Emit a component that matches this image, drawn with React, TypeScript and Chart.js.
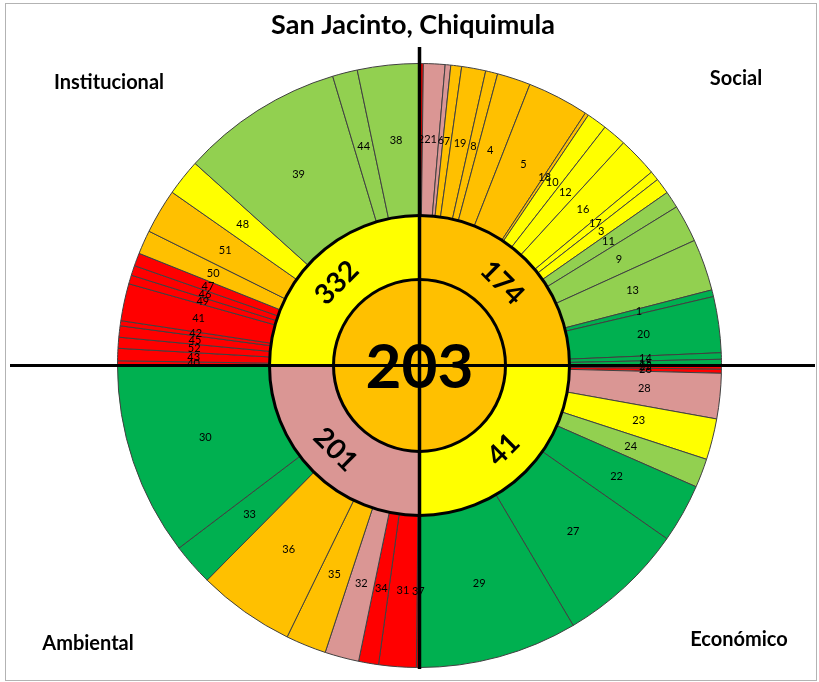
import React, { useEffect, useRef } from "react";
import { Chart, registerables } from "chart.js";

Chart.register(...registerables);

const TITLE = "San Jacinto, Chiquimula";
const CENTER_VALUE = "203";

// Quadrants, clockwise from 12 o'clock
const DIMENSION_NAMES = ["Social", "Económico", "Ambiental", "Institucional"];
const DIMENSION_VALUES = ["174", "41", "201", "332"];
const DIMENSION_LEVELS = ["O", "Y", "P", "Y"];
const CENTER_LEVEL = "O";

// Indicator ids, angular share (degrees) and traffic-light level, clockwise
const socialIds = [2, 21, 6, 7, 19, 8, 4, 5, 18, 10, 12, 16, 17, 3, 11, 9, 13, 1, 20, 14, 15];
const socialShares = [0.73, 4.15, 1.08, 2.08, 4.63, 2.33, 6.44, 11.86, 0.7, 3.9, 4.6, 7.68, 1.82, 3.06, 3.27, 7.22, 9.95, 1.3, 10.77, 1.25, 1.18];
const socialLevels = ["R", "P", "P", "O", "O", "O", "O", "O", "O", "Y", "Y", "Y", "Y", "Y", "LG", "LG", "LG", "G", "G", "G", "G"];

const economicoIds = [25, 26, 28, 23, 24, 22, 27, 29];
const economicoShares = [0.72, 0.76, 8.72, 7.9, 5.57, 11.33, 24.4, 30.6];
const economicoLevels = ["R", "R", "P", "Y", "LG", "G", "G", "G"];

const ambientalIds = [37, 31, 34, 32, 35, 36, 33, 30];
const ambientalShares = [0.6, 7.2, 3.84, 6.56, 7.8, 18.7, 8.1, 37.2];
const ambientalLevels = ["R", "R", "R", "P", "O", "O", "G", "G"];

const institucionalIds = [40, 43, 52, 45, 42, 41, 49, 46, 47, 50, 51, 48, 39, 44, 38];
const institucionalShares = [0.9, 2.37, 2.11, 2.18, 0.98, 7.16, 1.7, 1.9, 2.5, 4.6, 8.6, 7, 31.3, 4.8, 11.9];
const institucionalLevels = ["R", "R", "R", "R", "R", "R", "R", "R", "R", "O", "O", "Y", "LG", "LG", "LG"];

const LEVEL_COLORS: Record<string, string> = {
  R: "#FF0000",
  P: "#DA9694",
  O: "#FFC000",
  Y: "#FFFF00",
  LG: "#92D050",
  G: "#00B050",
};

const FONT = "Lato, 'Open Sans', sans-serif";

export default function App() {
  const ref = useRef<HTMLCanvasElement>(null);

  useEffect(() => {
    const canvas = ref.current;
    if (!canvas) return;

    const outerIds = [...socialIds, ...economicoIds, ...ambientalIds, ...institucionalIds];
    const outerShares = [...socialShares, ...economicoShares, ...ambientalShares, ...institucionalShares];
    const outerLevels = [...socialLevels, ...economicoLevels, ...ambientalLevels, ...institucionalLevels];
    const sum = (a: number[]) => a.reduce((s, v) => s + v, 0);
    const dimensionSpans = [sum(socialShares), sum(economicoShares), sum(ambientalShares), sum(institucionalShares)];

    const overlay = {
      id: "overlay",
      afterDatasetsDraw(chart: any) {
        const ctx: CanvasRenderingContext2D = chart.ctx;
        const m0 = chart.getDatasetMeta(0);
        const m1 = chart.getDatasetMeta(1);
        const a1: any = m1.data[0];
        const cx = a1.x;
        const cy = a1.y;
        ctx.save();

        // frame
        ctx.strokeStyle = "#b3b3b3";
        ctx.lineWidth = 1;
        ctx.strokeRect(5.5, 3.5, 811, 677);

        // ring outlines
        ctx.strokeStyle = "#000";
        ctx.lineWidth = 3;
        ctx.beginPath();
        ctx.arc(cx, cy, a1.outerRadius, 0, Math.PI * 2);
        ctx.stroke();
        ctx.beginPath();
        ctx.arc(cx, cy, a1.innerRadius, 0, Math.PI * 2);
        ctx.stroke();

        // segment labels
        ctx.fillStyle = "#000";
        ctx.textAlign = "center";
        ctx.textBaseline = "middle";
        ctx.font = `11px ${FONT}`;
        m0.data.forEach((arc: any, i: number) => {
          const p = arc.tooltipPosition(false);
          ctx.fillText(String(outerIds[i]), p.x, p.y);
        });

        // cross lines
        ctx.strokeStyle = "#000";
        ctx.lineWidth = 3;
        ctx.beginPath();
        ctx.moveTo(10, cy);
        ctx.lineTo(815, cy);
        ctx.stroke();
        ctx.lineWidth = 3.5;
        ctx.beginPath();
        ctx.moveTo(cx, 47);
        ctx.lineTo(cx, 669);
        ctx.stroke();

        // inner ring labels, tangential
        ctx.font = `bold 28px ${FONT}`;
        m1.data.forEach((arc: any, i: number) => {
          const p = arc.tooltipPosition(false);
          let rot = (arc.startAngle + arc.endAngle) / 2 + Math.PI / 2;
          while (rot > Math.PI / 2) rot -= Math.PI;
          while (rot < -Math.PI / 2) rot += Math.PI;
          ctx.save();
          ctx.translate(p.x, p.y);
          ctx.rotate(rot);
          ctx.fillText(DIMENSION_VALUES[i], 0, 1);
          ctx.restore();
        });

        // center value
        ctx.font = `bold 62px ${FONT}`;
        ctx.fillText(CENTER_VALUE, cx, cy + 2);

        // title
        ctx.font = `bold 27px ${FONT}`;
        ctx.fillText(TITLE, 413, 25);

        // quadrant names
        ctx.font = `bold 20px ${FONT}`;
        ctx.fillText(DIMENSION_NAMES[3], 109, 83);
        ctx.fillText(DIMENSION_NAMES[0], 736, 79);
        ctx.fillText(DIMENSION_NAMES[2], 88, 644);
        ctx.fillText(DIMENSION_NAMES[1], 739, 640);

        ctx.restore();
      },
    };

    const chart = new Chart(canvas, {
      type: "doughnut",
      data: {
        labels: outerIds.map(String),
        datasets: [
          {
            data: outerShares,
            backgroundColor: outerLevels.map((l) => LEVEL_COLORS[l]),
            borderColor: "#404040",
            borderWidth: 1,
            weight: 152,
          } as any,
          {
            data: dimensionSpans,
            backgroundColor: DIMENSION_LEVELS.map((l) => LEVEL_COLORS[l]),
            borderWidth: 0,
            weight: 64,
          } as any,
          {
            data: [sum(dimensionSpans)],
            backgroundColor: [LEVEL_COLORS[CENTER_LEVEL]],
            borderWidth: 0,
            weight: 86,
          } as any,
        ],
      },
      options: {
        responsive: false,
        animation: false,
        events: [],
        radius: 302,
        cutout: 0,
        layout: { padding: { left: 20, top: 49, right: 0, bottom: 0 } },
        plugins: {
          legend: { display: false },
          tooltip: { enabled: false },
          title: { display: false },
        },
      } as any,
      plugins: [overlay],
    });

    return () => chart.destroy();
  }, []);

  return (
    <div style={{ position: "fixed", left: 0, top: 0, width: 819, height: 682, background: "#fff" }}>
      <canvas ref={ref} width={819} height={682} style={{ display: "block" }} />
    </div>
  );
}
